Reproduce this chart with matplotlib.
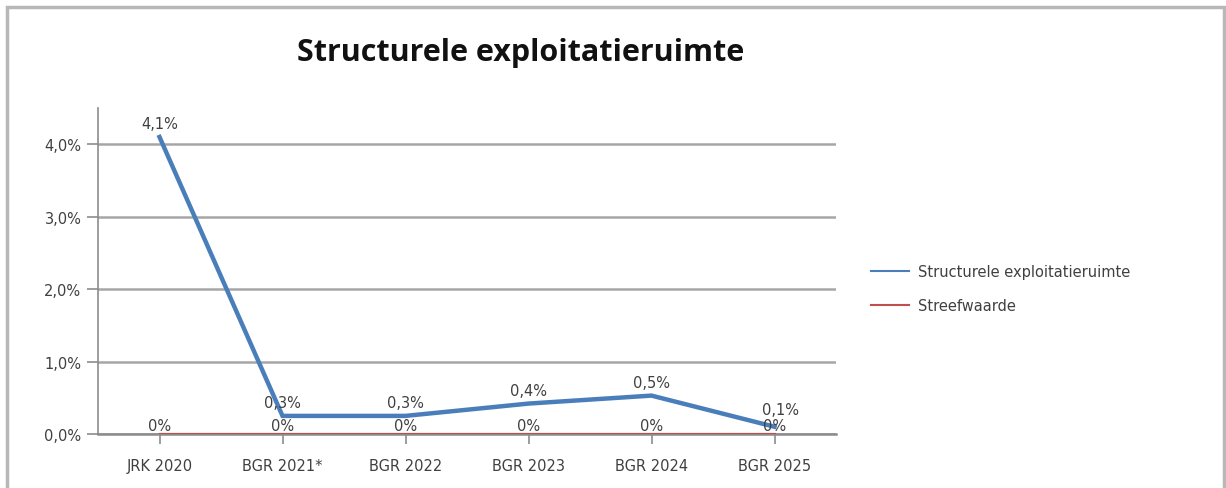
import matplotlib
matplotlib.use("Agg")
import matplotlib.pyplot as plt
from matplotlib.lines import Line2D
from matplotlib.patches import Rectangle

# chart data
categories = ["JRK 2020", "BGR 2021*", "BGR 2022", "BGR 2023", "BGR 2024", "BGR 2025"]
ruimte = [4.1, 0.25, 0.25, 0.42, 0.53, 0.1]
ruimte_labels = ["4,1%", "0,3%", "0,3%", "0,4%", "0,5%", "0,1%"]
streef = [0, 0, 0, 0, 0, 0]
streef_labels = ["0%", "0%", "0%", "0%", "0%", "0%"]
yticks = [0, 1, 2, 3, 4]
ytick_labels = ["0,0%", "1,0%", "2,0%", "3,0%", "4,0%"]

blue = "#4a7ebb"
red = "#c0504d"
txt = "#404040"

fig = plt.figure(figsize=(12.26, 4.89), dpi=100)
W, H = 1226, 489

# outer chart frame
fig.patches.append(Rectangle((7 / W, -0.05), (1224 - 7) / W, 1.05 - 8 / H,
                             transform=fig.transFigure, fill=False,
                             edgecolor="#b8b8b8", linewidth=2.5))

ax = fig.add_axes([98 / W, 1 - 435 / H, (836 - 98) / W, (435 - 109) / H])
x = list(range(len(categories)))

ax.plot(x, streef, color=red, linewidth=1.6, zorder=3)
ax.plot(x, ruimte, color=blue, linewidth=3.2, zorder=4, solid_joinstyle="miter")

for i, (v, lab) in enumerate(zip(ruimte, ruimte_labels)):
    # last label sits on top of the "0%" label in the original; nudge it a bit
    off = (4, 7) if i == len(ruimte) - 1 else (0, 4)
    ax.annotate(lab, (i, v), xytext=off, textcoords="offset points",
                ha="center", va="bottom", fontsize=10.5, color=txt, zorder=5)
for i, (v, lab) in enumerate(zip(streef, streef_labels)):
    ax.annotate(lab, (i, v), xytext=(0, 1), textcoords="offset points",
                ha="center", va="bottom", fontsize=10.5, color=txt, zorder=5)

ax.set_xlim(-0.5, len(categories) - 0.5)
ax.set_ylim(0, 4.5)
ax.set_yticks(yticks)
ax.set_yticklabels(ytick_labels)
ax.set_xticks(x)
ax.set_xticklabels(categories)
ax.grid(axis="y", color="#a6a6a6", linewidth=1.8)
ax.set_axisbelow(True)
for side in ["top", "right"]:
    ax.spines[side].set_visible(False)
ax.spines["left"].set_color("#8c8c8c")
ax.spines["left"].set_linewidth(1.2)
ax.spines["bottom"].set_color("#8c8c8c")
ax.spines["bottom"].set_linewidth(1.8)
ax.tick_params(axis="y", length=8, width=1.2, color="#8c8c8c", labelsize=10.5,
               labelcolor=txt, pad=4)
ax.tick_params(axis="x", length=7, width=1.2, color="#8c8c8c", labelsize=10.5,
               labelcolor=txt, pad=10)

fig.text(521 / W, 1 - 53 / H, "Structurele exploitatieruimte", ha="center",
         va="center", fontsize=22, fontweight="bold", family="Open Sans",
         color="#111111")

handles = [Line2D([], [], color=blue, linewidth=1.5),
           Line2D([], [], color=red, linewidth=1.5)]
fig.legend(handles, ["Structurele exploitatieruimte", "Streefwaarde"],
           loc="upper left", bbox_to_anchor=(858 / W, 1 - 252 / H),
           frameon=False, fontsize=10.5, labelcolor=txt, handlelength=2.6,
           handletextpad=0.6, labelspacing=1.3)

fig.savefig("out.png", dpi=100)
